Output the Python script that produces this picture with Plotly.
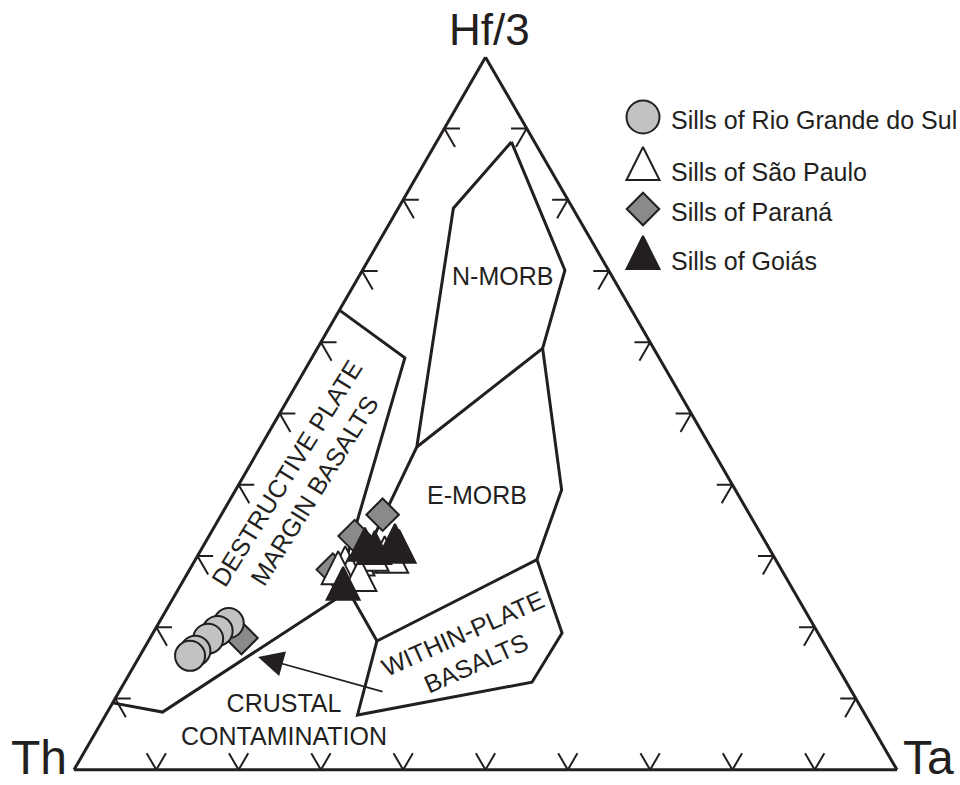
import plotly.graph_objects as go

# ---------------- data (percent: Hf/3, Th, Ta) ----------------
# Sills of Rio Grande do Sul
rs_hf = [20.6, 19.5, 18.4, 16.7, 16.0]
rs_th = [70.9, 72.8, 74.5, 76.9, 77.9]
rs_ta = [8.5, 7.7, 7.1, 6.4, 6.1]

# Sills of Sao Paulo
sp_hf = [28.3, 28.8, 27.1, 27.6, 29.7, 29.2, 29.5, 26.6]
sp_th = [52.9, 51.1, 52.9, 54.1, 47.4, 46.8, 49.1, 51.9]
sp_ta = [18.8, 20.1, 20.0, 18.3, 22.9, 24.0, 21.5, 21.4]

# Sills of Parana
pr_hf = [35.8, 32.8, 28.1, 18.5]
pr_th = [44.6, 49.5, 54.5, 70.4]
pr_ta = [19.6, 17.7, 17.4, 11.1]

# Sills of Goias
go_hf = [31.4, 30.6, 30.9, 30.4, 25.4]
go_th = [45.3, 45.2, 49.2, 48.2, 54.6]
go_ta = [23.3, 24.2, 19.9, 21.3, 20.0]

# field boundaries (Hf/3, Th, Ta)
dpm_line = [(64.5, 35.5, 0.0), (57.8, 30.9, 11.3), (23.8, 56.5, 19.7)]
crust_line = [(9.4, 90.6, 0.0), (8.1, 85.1, 6.7), (23.8, 56.5, 19.7), (25.2, 54.1, 20.7)]
morb_left = [(88.1, 2.8, 9.1), (78.8, 14.5, 6.7), (45.3, 35.7, 19.0), (25.2, 54.1, 20.7), (18.1, 54.2, 27.8)]
morb_right = [(88.1, 2.8, 9.1), (70.1, 5.3, 24.6), (59.2, 13.5, 27.4), (39.3, 21.1, 39.6), (29.5, 29.0, 41.5)]
nmorb_emorb = [(45.3, 35.7, 19.0), (59.2, 13.5, 27.4)]
wpb = [(18.1, 54.2, 27.8), (29.5, 29.0, 41.5), (19.2, 31.1, 49.7), (12.3, 38.2, 49.5), (7.7, 61.7, 30.6), (18.1, 54.2, 27.8)]

tick_vals = [10, 20, 30, 40, 50, 60, 70, 80, 90]

legend_names = ["Sills of Rio Grande do Sul", "Sills of São Paulo", "Sills of Paraná", "Sills of Goiás"]

INK = "#231f20"
W, H = 960, 785


def px(x):
    return x / W


def py(y):
    return 1 - y / H


fig = go.Figure()

# marker styles
m_rs = dict(symbol="circle", size=30, color="#c2c2c2", line=dict(color=INK, width=2))
m_sp = dict(symbol="arrow-down", angle=180, standoff=22, size=33, color="white", line=dict(color=INK, width=2))
m_pr = dict(symbol="diamond", size=25, color="#8a8a8a", line=dict(color=INK, width=2))
m_go = dict(symbol="arrow-down", angle=180, standoff=22, size=33, color=INK, line=dict(color=INK, width=2))


def add_line(pts, width=3):
    fig.add_trace(go.Scatterternary(
        a=[p[0] for p in pts], b=[p[1] for p in pts], c=[p[2] for p in pts],
        mode="lines", line=dict(color=INK, width=width), cliponaxis=False,
        hoverinfo="skip"))


for pts in [dpm_line, crust_line, morb_left, morb_right, nmorb_emorb, wpb]:
    add_line(pts)

# chevron ticks on the three sides
arm_h = 1.9
arm_s = 2.6
ta, tb, tc = [], [], []
for t in tick_vals:
    # left side (Th-Hf)
    ta += [t, t, t - arm_s, None]
    tb += [100 - t - arm_h, 100 - t, 100 - t, None]
    tc += [arm_h, 0, arm_s, None]
    # right side (Hf-Ta)
    ta += [t, t, t - arm_s, None]
    tb += [arm_h, 0, arm_s, None]
    tc += [100 - t - arm_h, 100 - t, 100 - t, None]
    # bottom (Th-Ta)
    ta += [arm_s * 0.9, 0, arm_s * 0.9, None]
    tb += [100 - t, 100 - t, 100 - t - arm_s * 0.9, None]
    tc += [t - arm_s * 0.9, t, t, None]
fig.add_trace(go.Scatterternary(a=ta, b=tb, c=tc, mode="lines",
                                line=dict(color=INK, width=2), hoverinfo="skip"))

# samples
fig.add_trace(go.Scatterternary(a=pr_hf, b=pr_th, c=pr_ta, mode="markers", marker=m_pr,
                                cliponaxis=False, name=legend_names[2]))
fig.add_trace(go.Scatterternary(a=sp_hf, b=sp_th, c=sp_ta, mode="markers", marker=m_sp,
                                cliponaxis=False, name=legend_names[1]))
fig.add_trace(go.Scatterternary(a=go_hf, b=go_th, c=go_ta, mode="markers", marker=m_go,
                                cliponaxis=False, name=legend_names[3]))
fig.add_trace(go.Scatterternary(a=rs_hf, b=rs_th, c=rs_ta, mode="markers", marker=m_rs,
                                cliponaxis=False, name=legend_names[0]))

# hand-made legend (large symbols)
leg_x = 643
leg_y = [117, 169, 209, 258]
for mk, yy, name in zip([m_rs, m_sp, m_pr, m_go], leg_y, legend_names):
    mk2 = dict(mk)
    if mk2["symbol"] == "circle":
        mk2["size"] = 33
    fig.add_trace(go.Scatter(x=[leg_x], y=[yy], mode="markers", marker=mk2,
                             cliponaxis=False, hoverinfo="skip"))
    fig.add_annotation(x=px(leg_x + 26), y=py(yy + 3), xref="paper", yref="paper",
                       text=name, showarrow=False, xanchor="left", yanchor="middle",
                       font=dict(size=25, color=INK))

axis_style = dict(showline=True, linewidth=3, linecolor=INK, showgrid=False,
                  showticklabels=False, ticks="", title=dict(text=""))

fig.update_layout(
    width=W, height=H,
    margin=dict(l=0, r=0, t=0, b=0),
    paper_bgcolor="white", plot_bgcolor="rgba(0,0,0,0)",
    showlegend=False,
    font=dict(family="Arial, Liberation Sans, sans-serif", color=INK),
    ternary=dict(
        sum=100,
        domain=dict(x=[74 / W, 897 / W], y=[15 / H, 728 / H]),
        bgcolor="white",
        aaxis=axis_style, baxis=axis_style, caxis=axis_style,
    ),
    xaxis=dict(range=[0, W], visible=False, domain=[0, 1], fixedrange=True),
    yaxis=dict(range=[H, 0], visible=False, domain=[0, 1], fixedrange=True),
)

# apex labels
apex_labels = [("Hf/3", 489, 30, 44), ("Th", 39, 757, 48), ("Ta", 928, 757, 48)]
for txt, lx, ly, fs in apex_labels:
    fig.add_annotation(x=px(lx), y=py(ly), xref="paper", yref="paper", text=txt,
                       showarrow=False, xanchor="center", yanchor="middle",
                       font=dict(size=fs, color=INK))

# field labels
labels = [
    ("N-MORB", 502, 276, 0),
    ("E-MORB", 477, 495, 0),
    ("DESTRUCTIVE PLATE<br>MARGIN BASALTS", 300, 482, -58),
    ("WITHIN-PLATE<br>BASALTS", 469, 648, -24),
    ("CRUSTAL<br>CONTAMINATION", 284, 719, 0),
]
for txt, lx, ly, ang in labels:
    fig.add_annotation(x=px(lx), y=py(ly), xref="paper", yref="paper", text=txt,
                       showarrow=False, textangle=ang, xanchor="center", yanchor="middle",
                       font=dict(size=25, color=INK))

# crustal contamination arrow
fig.add_annotation(x=px(258), y=py(657), xref="paper", yref="paper", ax=126, ay=35,
                   text="", showarrow=True, arrowhead=2, arrowsize=3, arrowwidth=1.7,
                   arrowcolor=INK)

fig.write_html("out.html", config={"displayModeBar": False},
               post_script="document.body.style.margin='0px';")
